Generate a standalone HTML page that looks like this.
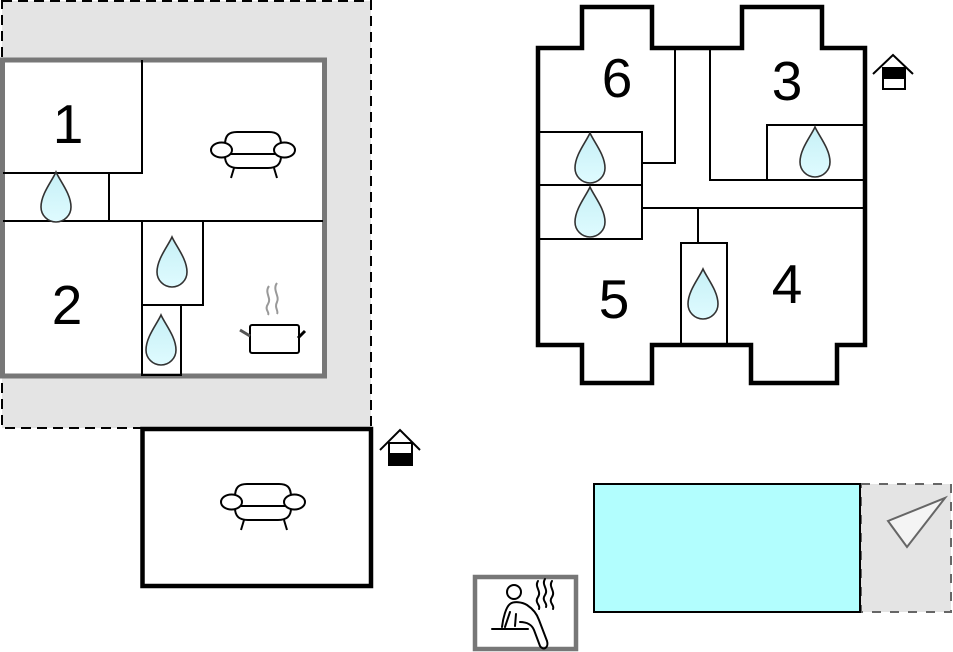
<!DOCTYPE html>
<html><head><meta charset="utf-8"><style>
html,body{margin:0;padding:0;background:#fff;}
svg{display:block;}
text{font-family:"Liberation Sans",Arial,sans-serif;font-size:55px;fill:#000;text-anchor:middle;}
</style></head><body>
<svg width="953" height="652" viewBox="0 0 953 652" xmlns="http://www.w3.org/2000/svg">
<defs>
<linearGradient id="dg" x1="0" y1="0" x2="0" y2="1">
<stop offset="0" stop-color="#c6f0f6"/><stop offset="1" stop-color="#dffbff"/>
</linearGradient>
<g id="drop"><path d="M0,0 C4,9 15,22 15,35 A15,15 0 0 1 -15,35 C-15,22 -4,9 0,0 Z" fill="url(#dg)" stroke="#333" stroke-width="1.6"/></g>
<g id="sofa" fill="#fff" stroke="#000" stroke-width="2">
<path d="M-28,-5 C-28,-15 -24,-18 -16,-18 L16,-18 C24,-18 28,-15 28,-5"/>
<path d="M-28,6 C-28,15 -23,18 -15,18 L15,18 C23,18 28,15 28,6"/>
<line x1="-22" y1="4" x2="22" y2="4"/>
<ellipse cx="-31.5" cy="0" rx="10.5" ry="7.5"/>
<ellipse cx="31.5" cy="0" rx="10.5" ry="7.5"/>
<line x1="-19" y1="18" x2="-22" y2="28"/>
<line x1="21" y1="18" x2="24" y2="28"/>
</g>
</defs>

<!-- left building terrace -->
<rect x="2" y="1" width="369" height="427" fill="#e4e4e4" stroke="#000" stroke-width="2" stroke-dasharray="10,6"/>
<rect x="2.5" y="60" width="322" height="316" fill="#fff" stroke="#777" stroke-width="5"/>
<g stroke="#000" stroke-width="2" fill="none">
<line x1="142" y1="60" x2="142" y2="174"/>
<line x1="3" y1="173" x2="143" y2="173"/>
<line x1="109" y1="173" x2="109" y2="221"/>
<line x1="3" y1="221" x2="323" y2="221"/>
<rect x="142" y="221" width="61" height="84"/>
<rect x="142" y="305" width="39" height="70"/>
</g>
<use href="#drop" x="56" y="172"/>
<use href="#drop" x="172" y="237"/>
<use href="#drop" x="161" y="315"/>
<text x="68" y="143">1</text>
<text x="67" y="324">2</text>
<use href="#sofa" x="253" y="150"/>
<!-- pot -->
<g>
<path d="M269,286 C264,293 272,298 268,304 C264,310 270,312 268,315" fill="none" stroke="#999" stroke-width="2"/>
<path d="M277,283 C272,290 280,296 277,302 C274,308 279,311 277,314" fill="none" stroke="#999" stroke-width="2"/>
<rect x="250" y="325" width="49" height="28" rx="2" fill="#fff" stroke="#000" stroke-width="2"/>
<line x1="240" y1="330" x2="250" y2="336" stroke="#555" stroke-width="3"/>
<line x1="298" y1="338" x2="305" y2="331" stroke="#000" stroke-width="3"/>
</g>

<!-- bottom living room -->
<rect x="142.5" y="429" width="228.5" height="157" fill="#fff" stroke="#000" stroke-width="4.5"/>
<use href="#sofa" x="263" y="502"/>
<!-- house icon bottom -->
<g stroke="#000" stroke-width="2" fill="none">
<polyline points="380,450 400,430 420,450"/>
<rect x="389" y="443" width="23" height="22" fill="#fff"/>
<rect x="389" y="454" width="23" height="11" fill="#000"/>
</g>

<!-- right building -->
<path d="M538,48 L582,48 L582,7 L652,7 L652,48 L742,48 L742,7 L822,7 L822,48 L865,48 L865,345 L837,345 L837,383 L751,383 L751,345 L652,345 L652,383 L582,383 L582,345 L538,345 Z" fill="#fff" stroke="#000" stroke-width="4.5"/>
<g stroke="#000" stroke-width="2" fill="none">
<line x1="675" y1="48" x2="675" y2="164"/>
<line x1="642" y1="163" x2="676" y2="163"/>
<line x1="710" y1="48" x2="710" y2="180"/>
<line x1="709" y1="180" x2="864" y2="180"/>
<rect x="767" y="125" width="97" height="55"/>
<rect x="539" y="132" width="103" height="53"/>
<rect x="539" y="185" width="103" height="54"/>
<line x1="642" y1="208" x2="864" y2="208"/>
<line x1="698" y1="208" x2="698" y2="243"/>
<rect x="681" y="243" width="46" height="102"/>
</g>
<use href="#drop" x="590" y="133"/>
<use href="#drop" x="590" y="187"/>
<use href="#drop" x="815" y="127"/>
<use href="#drop" x="703" y="269"/>
<text x="617" y="97">6</text>
<text x="787" y="100">3</text>
<text x="614" y="318">5</text>
<text x="787" y="303">4</text>
<!-- house icon right -->
<g stroke="#000" stroke-width="2" fill="none">
<polyline points="873,74 893,55 913,74"/>
<rect x="883" y="68" width="22" height="21" fill="#fff"/>
<rect x="883" y="68" width="22" height="10" fill="#000"/>
</g>

<!-- pool -->
<rect x="861" y="484" width="90" height="128" fill="#e4e4e4" stroke="#666" stroke-width="2" stroke-dasharray="9,9"/>
<rect x="594" y="484" width="266" height="128" fill="#b2fefe" stroke="#000" stroke-width="2"/>
<polygon points="888,521 945,498 907,547" fill="#f4f4f4" stroke="#666" stroke-width="2"/>

<!-- sauna -->
<rect x="475" y="577" width="101" height="72" fill="#fff" stroke="#777" stroke-width="4.5"/>
<g fill="none" stroke="#000" stroke-width="2" stroke-linecap="round" stroke-linejoin="round">
<circle cx="514" cy="592" r="7"/>
<path d="M502,627 C503,618 506,607 510,604 C514,601 522,602 527,605 C533,609 537,614 539,620 L547,641 C549,648 543,651 540,646 L534,630 C532,625 527,622 520,622"/>
<path d="M510,612 L505,627 M516,614 L515,626"/>
<line x1="492" y1="629" x2="528" y2="629"/>
<path d="M538,581 C534,587 542,591 538,597 C534,603 541,605 539,609"/>
<path d="M545,579 C541,585 549,589 545,595 C541,601 548,603 546,607"/>
<path d="M552,581 C548,587 556,591 552,597 C548,603 555,605 553,609"/>
</g>
</svg>
</body></html>
